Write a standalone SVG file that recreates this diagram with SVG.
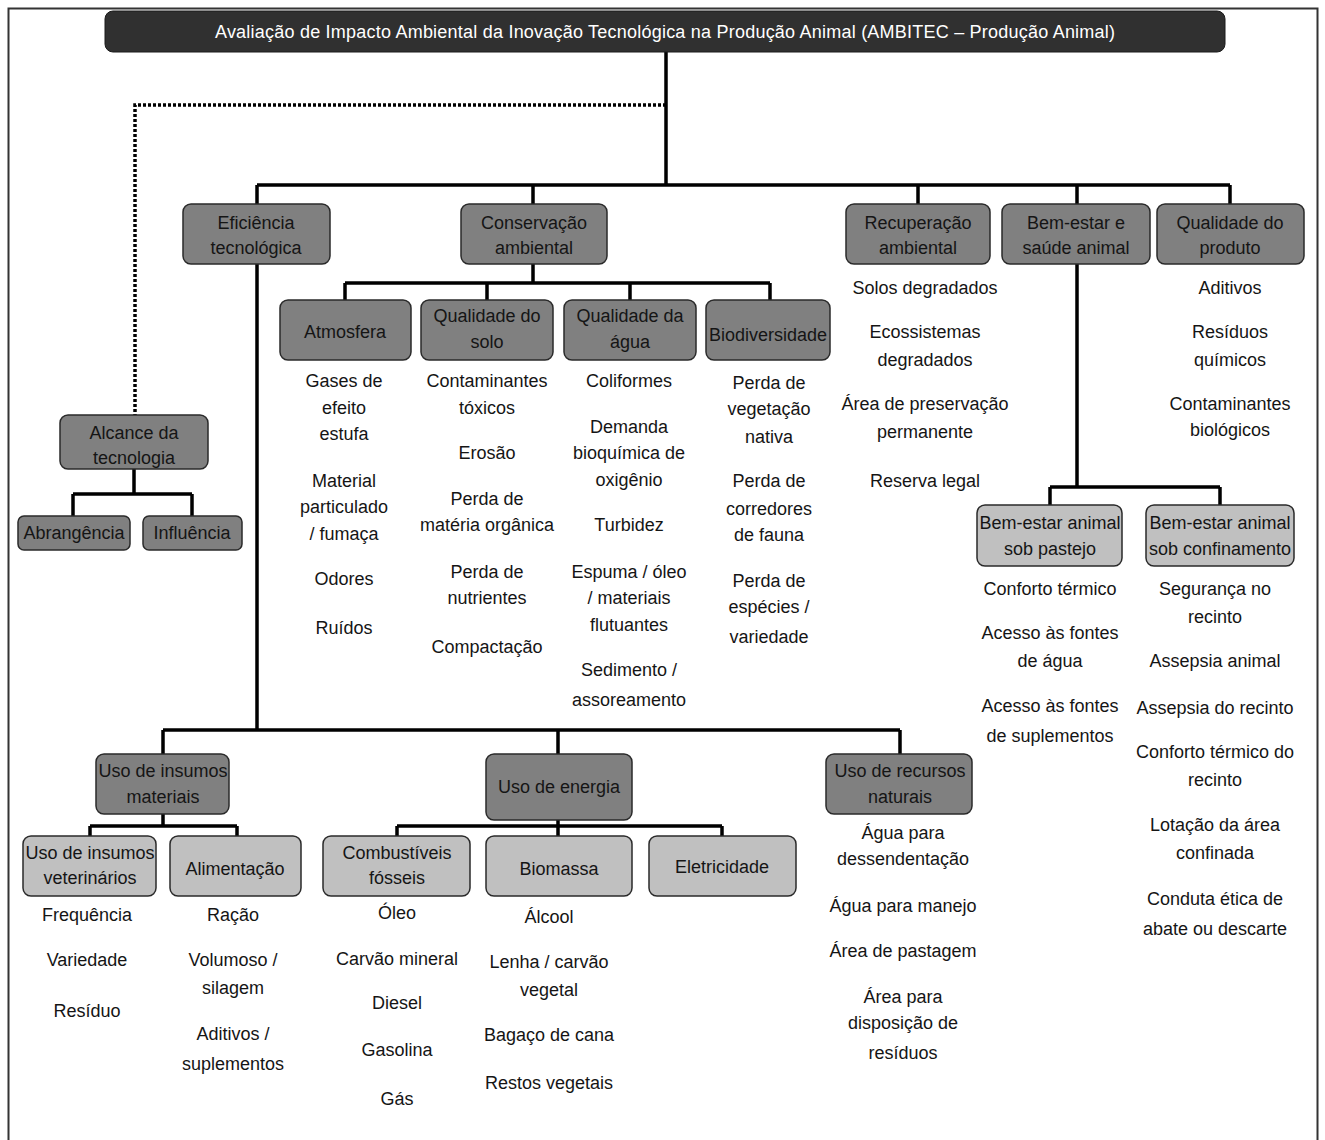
<svg xmlns="http://www.w3.org/2000/svg" width="1325" height="1140" viewBox="0 0 1325 1140">
<style>
text{font-family:"Liberation Sans",Arial,sans-serif;font-size:18px;fill:#151515;text-anchor:middle}
.n1 rect{fill:#808080;stroke:#2a2a2a;stroke-width:1.5}
.n2 rect{fill:#c0c0c0;stroke:#2a2a2a;stroke-width:1.5}
.title rect{fill:#303030;stroke:#1a1a1a;stroke-width:1}
.title text{fill:#ffffff;font-size:18px}
.c{fill:none;stroke:#000;stroke-width:3.5}
.d{fill:none;stroke:#000;stroke-width:3.5;stroke-dasharray:3 2}
</style>
<rect x="8.5" y="8.5" width="1309" height="1140" fill="#fff" stroke="#333" stroke-width="2"/>
<g id="connectors">
<path class="c" d="M666 52V185M257 185H1230M257 185V204M533 185V204M918 185V204M1077 185V204M1230 185V204"/>
<path class="d" d="M666 105H135V415"/>
<path class="c" d="M533 264V283M345 283H770M345 283V300M487 283V300M630 283V300M770 283V300"/>
<path class="c" d="M1077 264V487M1050 487H1220M1050 487V505M1220 487V505"/>
<path class="c" d="M134 469V494M73 494H192M73 494V516M192 494V516"/>
<path class="c" d="M257 264V730M163 730H900M163 730V754M558 730V754M900 730V754"/>
<path class="c" d="M163 814V826M90 826H237M90 826V836M237 826V836"/>
<path class="c" d="M558 820V826M397 826H722M397 826V836M558 826V836M722 826V836"/>
</g>
<g id="title" class="title"><rect x="105" y="11" width="1120" height="41" rx="8"/><text x="665" y="38" textLength="900" lengthAdjust="spacing">Avaliação de Impacto Ambiental da Inovação Tecnológica na Produção Animal (AMBITEC – Produção Animal)</text></g>
<g id="eficiencia" class="n1"><rect x="183" y="204" width="147" height="60" rx="8"/><text x="256" y="229">Eficiência</text><text x="256" y="254">tecnológica</text></g>
<g id="conservacao" class="n1"><rect x="461" y="204" width="146" height="60" rx="8"/><text x="534" y="229">Conservação</text><text x="534" y="254">ambiental</text></g>
<g id="recuperacao" class="n1"><rect x="846" y="204" width="144" height="60" rx="8"/><text x="918" y="229">Recuperação</text><text x="918" y="254">ambiental</text>
<text x="925" y="294">Solos degradados</text><text x="925" y="338">Ecossistemas</text><text x="925" y="366">degradados</text><text x="925" y="410">Área de preservação</text><text x="925" y="438">permanente</text><text x="925" y="487">Reserva legal</text></g>
<g id="bemestar" class="n1"><rect x="1002" y="204" width="148" height="60" rx="8"/><text x="1076" y="229">Bem-estar e</text><text x="1076" y="254">saúde animal</text></g>
<g id="qualidade-produto" class="n1"><rect x="1157" y="204" width="147" height="60" rx="8"/><text x="1230" y="229">Qualidade do</text><text x="1230" y="254">produto</text>
<text x="1230" y="294">Aditivos</text><text x="1230" y="338">Resíduos</text><text x="1230" y="366">químicos</text><text x="1230" y="410">Contaminantes</text><text x="1230" y="436">biológicos</text></g>
<g id="atmosfera" class="n1"><rect x="280" y="300" width="131" height="60" rx="8"/><text x="345" y="338">Atmosfera</text>
<text x="344" y="387">Gases de</text><text x="344" y="414">efeito</text><text x="344" y="440">estufa</text><text x="344" y="487">Material</text><text x="344" y="513">particulado</text><text x="344" y="540">/ fumaça</text><text x="344" y="585">Odores</text><text x="344" y="634">Ruídos</text></g>
<g id="qualidade-solo" class="n1"><rect x="421" y="300" width="132" height="60" rx="8"/><text x="487" y="322">Qualidade do</text><text x="487" y="348">solo</text>
<text x="487" y="387">Contaminantes</text><text x="487" y="414">tóxicos</text><text x="487" y="459">Erosão</text><text x="487" y="505">Perda de</text><text x="487" y="531">matéria orgânica</text><text x="487" y="578">Perda de</text><text x="487" y="604">nutrientes</text><text x="487" y="653">Compactação</text></g>
<g id="qualidade-agua" class="n1"><rect x="564" y="300" width="132" height="60" rx="8"/><text x="630" y="322">Qualidade da</text><text x="630" y="348">água</text>
<text x="629" y="387">Coliformes</text><text x="629" y="433">Demanda</text><text x="629" y="459">bioquímica de</text><text x="629" y="486">oxigênio</text><text x="629" y="531">Turbidez</text><text x="629" y="578">Espuma / óleo</text><text x="629" y="604">/ materiais</text><text x="629" y="631">flutuantes</text><text x="629" y="676">Sedimento /</text><text x="629" y="706">assoreamento</text></g>
<g id="biodiversidade" class="n1"><rect x="706" y="300" width="124" height="60" rx="8"/><text x="768" y="341">Biodiversidade</text>
<text x="769" y="389">Perda de</text><text x="769" y="415">vegetação</text><text x="769" y="443">nativa</text><text x="769" y="487">Perda de</text><text x="769" y="515">corredores</text><text x="769" y="541">de fauna</text><text x="769" y="587">Perda de</text><text x="769" y="613">espécies /</text><text x="769" y="643">variedade</text></g>
<g id="alcance" class="n1"><rect x="60" y="415" width="148" height="54" rx="8"/><text x="134" y="439">Alcance da</text><text x="134" y="464">tecnologia</text></g>
<g id="abrangencia" class="n1"><rect x="18" y="516" width="112" height="34" rx="6"/><text x="74" y="539">Abrangência</text></g>
<g id="influencia" class="n1"><rect x="143" y="516" width="99" height="34" rx="6"/><text x="192" y="539">Influência</text></g>
<g id="bem-pastejo" class="n2"><rect x="977" y="505" width="145" height="61" rx="8"/><text x="1050" y="529">Bem-estar animal</text><text x="1050" y="555">sob pastejo</text>
<text x="1050" y="595">Conforto térmico</text><text x="1050" y="639">Acesso às fontes</text><text x="1050" y="667">de água</text><text x="1050" y="712">Acesso às fontes</text><text x="1050" y="742">de suplementos</text></g>
<g id="bem-confinamento" class="n2"><rect x="1146" y="505" width="148" height="61" rx="8"/><text x="1220" y="529">Bem-estar animal</text><text x="1220" y="555">sob confinamento</text>
<text x="1215" y="595">Segurança no</text><text x="1215" y="623">recinto</text><text x="1215" y="667">Assepsia animal</text><text x="1215" y="714">Assepsia do recinto</text><text x="1215" y="758">Conforto térmico do</text><text x="1215" y="786">recinto</text><text x="1215" y="831">Lotação da área</text><text x="1215" y="859">confinada</text><text x="1215" y="905">Conduta ética de</text><text x="1215" y="935">abate ou descarte</text></g>
<g id="insumos-materiais" class="n1"><rect x="96" y="754" width="133" height="60" rx="8"/><text x="163" y="777">Uso de insumos</text><text x="163" y="803">materiais</text></g>
<g id="uso-energia" class="n1"><rect x="486" y="754" width="146" height="66" rx="8"/><text x="559" y="793">Uso de energia</text></g>
<g id="recursos-naturais" class="n1"><rect x="826" y="754" width="146" height="60" rx="8"/><text x="900" y="777">Uso de recursos</text><text x="900" y="803">naturais</text>
<text x="903" y="839">Água para</text><text x="903" y="865">dessendentação</text><text x="903" y="912">Água para manejo</text><text x="903" y="957">Área de pastagem</text><text x="903" y="1003">Área para</text><text x="903" y="1029">disposição de</text><text x="903" y="1059">resíduos</text></g>
<g id="veterinarios" class="n2"><rect x="23" y="836" width="133" height="60" rx="8"/><text x="90" y="859">Uso de insumos</text><text x="90" y="884">veterinários</text>
<text x="87" y="921">Frequência</text><text x="87" y="966">Variedade</text><text x="87" y="1017">Resíduo</text></g>
<g id="alimentacao" class="n2"><rect x="170" y="836" width="131" height="60" rx="8"/><text x="235" y="875">Alimentação</text>
<text x="233" y="921">Ração</text><text x="233" y="966">Volumoso /</text><text x="233" y="994">silagem</text><text x="233" y="1040">Aditivos /</text><text x="233" y="1070">suplementos</text></g>
<g id="combustiveis" class="n2"><rect x="323" y="836" width="147" height="60" rx="8"/><text x="397" y="859">Combustíveis</text><text x="397" y="884">fósseis</text>
<text x="397" y="919">Óleo</text><text x="397" y="965">Carvão mineral</text><text x="397" y="1009">Diesel</text><text x="397" y="1056">Gasolina</text><text x="397" y="1105">Gás</text></g>
<g id="biomassa" class="n2"><rect x="486" y="836" width="146" height="60" rx="8"/><text x="559" y="875">Biomassa</text>
<text x="549" y="923">Álcool</text><text x="549" y="968">Lenha / carvão</text><text x="549" y="996">vegetal</text><text x="549" y="1041">Bagaço de cana</text><text x="549" y="1089">Restos vegetais</text></g>
<g id="eletricidade" class="n2"><rect x="649" y="836" width="147" height="60" rx="8"/><text x="722" y="873">Eletricidade</text></g>
</svg>
